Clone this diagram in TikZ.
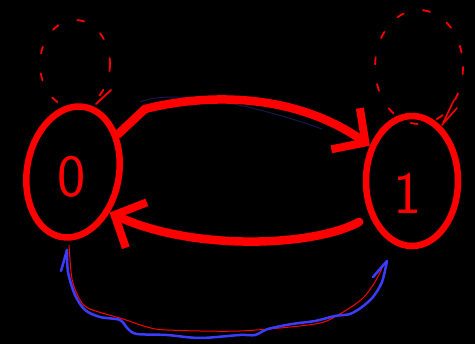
\documentclass[tikz,border=0pt]{standalone}
\usetikzlibrary{shapes.geometric,arrows.meta}
\definecolor{sred}{RGB}{255,0,0}
\definecolor{sblue}{RGB}{60,60,255}
\definecolor{snavy}{RGB}{24,24,80}
\begin{document}
\begin{tikzpicture}[x=1pt,y=-1pt,
  statebox/.style={ellipse,draw=sred,line width=6.5pt,inner sep=0pt},
  digit/.style={text=sred,font=\fontsize{60}{60}\selectfont\sffamily,inner sep=0pt},
  bigedge/.style={draw=sred,line width=8.5pt,line cap=round,
    -{Straight Barb[length=24pt,width=50pt,line width=8pt]}},
  loopline/.style={draw=sred,line width=1.8pt,dash pattern=on 7pt off 20pt,line cap=round},
  thinred/.style={draw=sred,line width=1pt},
  blueline/.style={draw=sblue,line width=2.5pt,line cap=round,line join=round},
  faint/.style={draw=snavy,line width=1pt}]
\fill[black] (0,0) rectangle (475,344);
\useasboundingbox (0,0) rectangle (475,344);
% states
\node[statebox,minimum width=92pt,minimum height=132pt,rotate=-10] (state0) at (73,172) {};
\node[statebox,minimum width=92pt,minimum height=130pt] (state1) at (412,181) {};
\node[digit] (d0) at (72,177) {0};
\node[digit] (d1) at (408,193) {1};
% faint navy stroke
\draw[faint] (140,102) .. controls (170,90) and (240,100) .. (322,129);
% top transition
\draw[bigedge] (state0.50) -- (145,109) .. controls (200,95) and (290,90) .. (state1.140);
% bottom transition
\draw[bigedge,shorten <=12pt] (state1.220) .. controls (310,248) and (190,250) .. (state0.-38);
% self loops
\draw[loopline] (75,64) ellipse [x radius=35, y radius=44];
\draw[sred,line width=1.8pt,line cap=round] (96,104) -- (111,90);
\draw[loopline] (419,67) ellipse [x radius=44, y radius=57];
\draw[sred,line width=1.6pt,line cap=round] (454,100) -- (443,123) (457,108) -- (442,125);
% bottom curves
\coordinate (r0) at (69,245);
\coordinate (r1) at (382,268);
\draw[thinred] (r0) plot[smooth] coordinates {(69,245) (72,279) (80,300) (90,309) (123,319) (147,327) (167,330) (240,331) (315,324) (338,315) (362,299) (375,282) (382,268)};
\coordinate (b0) at (67,250);
\coordinate (b1) at (387,261);
\draw[blueline] plot[smooth] coordinates {(67,250) (68,272) (75,295) (85,310) (100,317) (120,320) (128,329) (137,334) (167,335) (200,338) (240,335) (255,335) (268,329) (292,324) (315,321) (335,316) (350,314) (362,307) (373,297) (382,282) (387,261)};
\draw[blueline] (b0) -- (61,271);
\draw[blueline] (b1) -- (373,277);
\end{tikzpicture}
\end{document}
